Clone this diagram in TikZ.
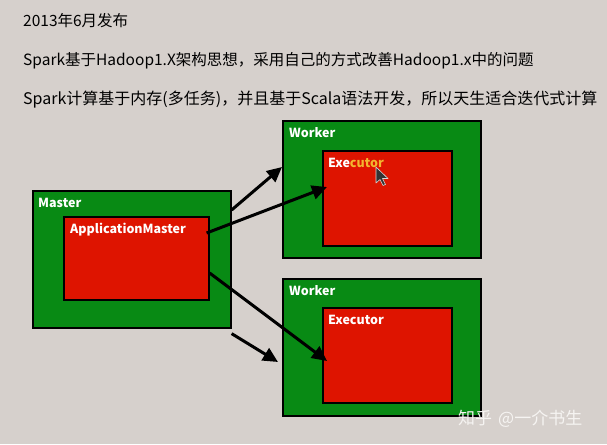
\documentclass[tikz,border=0pt]{standalone}
\usepackage{fontspec}
\setmainfont{Noto Sans CJK SC}
\usetikzlibrary{arrows.meta,calc}
\definecolor{bg}{HTML}{D6D0CC}
\definecolor{boxgreen}{HTML}{088A14}
\definecolor{boxred}{HTML}{DE1400}
\definecolor{hilite}{HTML}{F2B630}
\definecolor{markgray}{HTML}{F6F4F2}
\tikzset{
  greenbox/.style={draw=black, line width=1.6pt, fill=boxgreen, anchor=north west, inner sep=0pt},
  redbox/.style={draw=black, line width=1.6pt, fill=boxred, anchor=north west, inner sep=0pt},
  boxlabel/.style={text=white, font=\fontsize{12.5}{14}\selectfont\bfseries, anchor=base west, inner sep=0pt},
  headline/.style={text=black, font=\fontsize{15.5}{18}\selectfont, anchor=base west, inner sep=0pt},
  flow/.style={draw=black, line width=3pt, -{Triangle[length=15pt,width=14pt]}},
}
\begin{document}
\begin{tikzpicture}[x=1pt,y=-1pt]
\fill[bg] (0,0) rectangle (607,444);
\useasboundingbox (0,0) rectangle (607,444);

% headlines
\node[headline] (t1) at (23,27) {2013年6月发布};
\node[headline] (t2) at (23,66) {Spark基于Hadoop1.X架构思想，采用自己的方式改善Hadoop1.x中的问题};
\node[headline, font=\fontsize{16}{18}\selectfont] (t3) at (23,104) {Spark计算基于内存(多任务)，并且基于Scala语法开发，所以天生适合迭代式计算};

% master
\node[greenbox, minimum width=198pt, minimum height=137pt] (master) at (32,190) {};
\node[redbox, minimum width=145pt, minimum height=83pt] (am) at (63,216) {};
\node[boxlabel] (masterlbl) at (38,207) {Master};
\node[boxlabel] (amlbl) at (70,233) {ApplicationMaster};

% worker 1
\node[greenbox, minimum width=198pt, minimum height=137pt] (w1) at (282,120) {};
\node[redbox, minimum width=129pt, minimum height=95pt] (e1) at (322,150) {};
\node[boxlabel] (w1lbl) at (289,137) {Worker};
\node[boxlabel] (e1lbl) at (328,167) {Exe\textcolor{hilite}{cutor}};

% worker 2
\node[greenbox, minimum width=198pt, minimum height=137pt] (w2) at (282,278) {};
\node[redbox, minimum width=129pt, minimum height=95pt] (e2) at (322,307) {};
\node[boxlabel] (w2lbl) at (289,295) {Worker};
\node[boxlabel] (e2lbl) at (328,324) {Executor};

% arrows
\draw[flow] ($(master.north east)+(0,20)$) -- ($(w1.north west)+(0,47)$);
\draw[flow] ($(am.north east)+(-3,17)$) -- ($(e1.north west)+(5,37)$);
\draw[flow] ($(am.north east)+(0,57)$) -- ($(e2.north west)+(5,54)$);
\draw[flow] ($(master.south east)+(0,5)$) -- ($(w2.north west)+(-4,84)$);

% mouse cursor
\filldraw[fill=black!80, draw=white!85!black, line width=0.6pt, line join=round]
  (376,167) -- (376,183) -- (380,179.5) -- (383,185.5) -- (385.5,184.5) -- (382.5,178.5) -- (388,178.5) -- cycle;

% watermark
\node[text=markgray, font=\fontsize{17}{19}\selectfont, anchor=base west, inner sep=0pt] (mark) at (458,424) {知乎\hspace{6pt}@一介书生};
\end{tikzpicture}
\end{document}
